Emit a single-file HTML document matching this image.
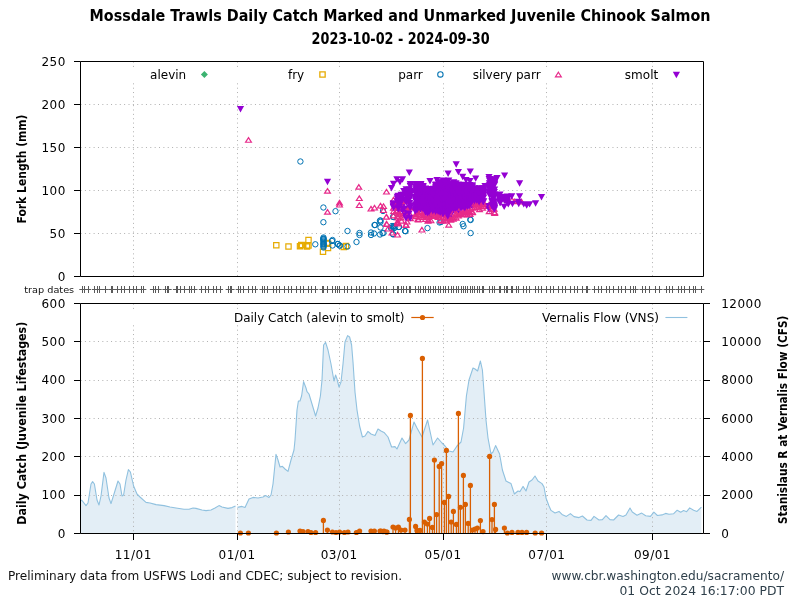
<!DOCTYPE html>
<html><head><meta charset="utf-8"><title>Mossdale Trawls Daily Catch</title>
<style>html,body{margin:0;padding:0;background:#fff;width:800px;height:600px;overflow:hidden}svg{display:block}</style>
</head><body>
<svg width="800" height="600" viewBox="0 0 800 600"><text x="400" y="20.6" text-anchor="middle" font-family='"DejaVu Sans Condensed","DejaVu Sans","Liberation Sans",sans-serif' font-weight="bold" font-size="15.9" textLength="621" lengthAdjust="spacingAndGlyphs">Mossdale Trawls Daily Catch Marked and Unmarked Juvenile Chinook Salmon</text>
<text x="400.6" y="43.8" text-anchor="middle" font-family='"DejaVu Sans Condensed","DejaVu Sans","Liberation Sans",sans-serif' font-weight="bold" font-size="15.9" textLength="178" lengthAdjust="spacingAndGlyphs">2023-10-02 - 2024-09-30</text>
<polygon points="81,533 81,500 82.4,501 86,505.6 88,503 91,484 92.6,481.6 94.4,484 97,500 99,505 101,496 104,472.4 106,478 109,498 111,503.6 114,494 118,481 120,484 122,496 123.6,495 126,480 128.4,469.6 130.4,472 133.6,486 137,494 140,497 146,502.4 150,503 156,504.6 164,505.6 170,507 176,508 184,509.2 189,509.2 193,508 196,508.4 202,510 206,510.6 211,510 215,508 219,505.6 222,507 228,508.4 232,507.6 235.5,506 235.5,533" fill="#e3eef6"/>
<polygon points="237.5,533 237.5,507.4 242,506.4 245,507.4 249,499 253,497.4 258,498 263,497 265.6,495.6 269,497.4 271,495 273,484 276,454.4 278,460 280,467 282.4,466.4 285,469 288,471.4 291,460 294,450 295,440 297,410 298.4,401 300,401 301.6,396 303.6,381.6 306,388 307,391.6 309,394 312,404 315.6,416 318,408 320.4,396 322,380 323.6,345 325.6,342.4 328,350 331,364 334,381 335.6,375 337,379 339,387 341,382 343,364 345,342 347.6,335.6 349.6,337 351.6,345 353,362 355,392 357,410 359.6,426 362.4,437 365,436 368,431.4 371,434 375,435.6 378,429 381,431 384,432.4 388,437 391.6,447 395,446.6 397,449 402,438 405.6,443.6 409,440 414,422 417,428 422,437 427.6,420 433,445 437.6,438 442,443 445,446 449,451 453,452 457,446 461,442 463.6,428 466.4,396 469,380 473,368 475,369 477.6,371 480.4,361 482.4,370 484,392 486,420 488,438 491,454 493,452 495.6,445.6 499.6,454 502.4,470 506,481 511,483.6 514.4,494 518,491 520,491.6 523,486.4 526,491 529,482 532,480 535,476 538,481 542,483.6 544,487 546,498 549,506 551,510.4 555,513 559,511.4 562,514.4 566.4,516.4 570.4,513.6 574,516.6 579,517.6 582.4,516 587,520 591,520.4 594,516.4 599,520 602.4,519.6 606,515.6 610,519.6 613.6,520 618.6,515 623,516.4 626,515 630,508 632.3,512 637,515.2 641.7,513.1 645.7,515.8 650.4,516.4 653.9,512.2 657.4,515.5 662,514.9 665.6,513.4 669,514.3 673.7,513.7 677.2,510.2 680.7,512.2 683.6,510.6 686.6,511.7 689.7,507.9 693.6,510.2 697,511.4 701.4,507.1 701.4,533" fill="#e3eef6"/>
<path d="M133.5 62V276 M133.5 304V533 M237.5 62V276 M237.5 304V533 M339.5 62V276 M339.5 304V533 M443.5 62V276 M443.5 304V533 M546.5 62V276 M546.5 304V533 M652.5 62V276 M652.5 304V533 M81 233.5H703 M81 190.5H703 M81 147.5H703 M81 104.5H703 M81 495.5H703 M81 456.5H703 M81 418.5H703 M81 380.5H703 M81 341.5H703" stroke="#b0b0b0" stroke-width="1" stroke-dasharray="1,3.36" stroke-dashoffset="-3.9" fill="none"/>
<polyline points="81,500 82.4,501 86,505.6 88,503 91,484 92.6,481.6 94.4,484 97,500 99,505 101,496 104,472.4 106,478 109,498 111,503.6 114,494 118,481 120,484 122,496 123.6,495 126,480 128.4,469.6 130.4,472 133.6,486 137,494 140,497 146,502.4 150,503 156,504.6 164,505.6 170,507 176,508 184,509.2 189,509.2 193,508 196,508.4 202,510 206,510.6 211,510 215,508 219,505.6 222,507 228,508.4 232,507.6 235.5,506" fill="none" stroke="#90c1df" stroke-width="1.1" stroke-linejoin="round"/>
<polyline points="237.5,507.4 242,506.4 245,507.4 249,499 253,497.4 258,498 263,497 265.6,495.6 269,497.4 271,495 273,484 276,454.4 278,460 280,467 282.4,466.4 285,469 288,471.4 291,460 294,450 295,440 297,410 298.4,401 300,401 301.6,396 303.6,381.6 306,388 307,391.6 309,394 312,404 315.6,416 318,408 320.4,396 322,380 323.6,345 325.6,342.4 328,350 331,364 334,381 335.6,375 337,379 339,387 341,382 343,364 345,342 347.6,335.6 349.6,337 351.6,345 353,362 355,392 357,410 359.6,426 362.4,437 365,436 368,431.4 371,434 375,435.6 378,429 381,431 384,432.4 388,437 391.6,447 395,446.6 397,449 402,438 405.6,443.6 409,440 414,422 417,428 422,437 427.6,420 433,445 437.6,438 442,443 445,446 449,451 453,452 457,446 461,442 463.6,428 466.4,396 469,380 473,368 475,369 477.6,371 480.4,361 482.4,370 484,392 486,420 488,438 491,454 493,452 495.6,445.6 499.6,454 502.4,470 506,481 511,483.6 514.4,494 518,491 520,491.6 523,486.4 526,491 529,482 532,480 535,476 538,481 542,483.6 544,487 546,498 549,506 551,510.4 555,513 559,511.4 562,514.4 566.4,516.4 570.4,513.6 574,516.6 579,517.6 582.4,516 587,520 591,520.4 594,516.4 599,520 602.4,519.6 606,515.6 610,519.6 613.6,520 618.6,515 623,516.4 626,515 630,508 632.3,512 637,515.2 641.7,513.1 645.7,515.8 650.4,516.4 653.9,512.2 657.4,515.5 662,514.9 665.6,513.4 669,514.3 673.7,513.7 677.2,510.2 680.7,512.2 683.6,510.6 686.6,511.7 689.7,507.9 693.6,510.2 697,511.4 701.4,507.1" fill="none" stroke="#90c1df" stroke-width="1.1" stroke-linejoin="round"/>
<path d="M323.4 533.5V520.4 M327.4 533.5V530 M393 533.5V527 M395.6 533.5V528 M398.4 533.5V527 M401 533.5V530 M405 533.5V530 M409.4 533.5V519.4 M410.4 533.5V415.4 M415.6 533.5V526.4 M417 533.5V530.4 M420 533.5V530.4 M422.4 533.5V358.4 M424.4 533.5V522 M427.4 533.5V524 M429.6 533.5V518.4 M432.4 533.5V527.4 M434.4 533.5V460 M436.6 533.5V514.6 M439.2 533.5V466.4 M441.6 533.5V463.6 M444.4 533.5V502.4 M446.4 533.5V450.4 M448.6 533.5V496.4 M451.2 533.5V522 M453.4 533.5V511.4 M456.4 533.5V524.4 M458.4 533.5V413.4 M460.4 533.5V507.4 M463.4 533.5V475.4 M465.4 533.5V504.4 M468.2 533.5V523.4 M470.4 533.5V485.4 M472.4 533.5V530 M475 533.5V529 M477.4 533.5V528 M480.4 533.5V520.6 M489.6 533.5V456.4 M492 533.5V519.6 M494.4 533.5V504.4 M495.6 533.5V529.4 M504.4 533.5V528" stroke="#d95f02" stroke-width="1.3" fill="none"/>
<g fill="#d95f02"><circle cx="240.4" cy="533" r="2.6"/><circle cx="248.4" cy="533" r="2.6"/><circle cx="276.4" cy="533" r="2.6"/><circle cx="288.4" cy="532" r="2.6"/><circle cx="300" cy="531" r="2.6"/><circle cx="303" cy="531.5" r="2.6"/><circle cx="308" cy="531.5" r="2.6"/><circle cx="311" cy="532.5" r="2.6"/><circle cx="315.6" cy="532.5" r="2.6"/><circle cx="323.4" cy="520.4" r="2.6"/><circle cx="327.4" cy="530" r="2.6"/><circle cx="332.4" cy="532" r="2.6"/><circle cx="336" cy="532.5" r="2.6"/><circle cx="339.6" cy="532" r="2.6"/><circle cx="344.4" cy="532.5" r="2.6"/><circle cx="348" cy="532" r="2.6"/><circle cx="356.4" cy="532.5" r="2.6"/><circle cx="359.6" cy="531" r="2.6"/><circle cx="371" cy="531" r="2.6"/><circle cx="374.4" cy="531" r="2.6"/><circle cx="381" cy="531" r="2.6"/><circle cx="384" cy="531" r="2.6"/><circle cx="387" cy="532" r="2.6"/><circle cx="380" cy="531" r="2.6"/><circle cx="383" cy="531.6" r="2.6"/><circle cx="386.4" cy="532" r="2.6"/><circle cx="393" cy="527" r="2.6"/><circle cx="395.6" cy="528" r="2.6"/><circle cx="398.4" cy="527" r="2.6"/><circle cx="401" cy="530" r="2.6"/><circle cx="405" cy="530" r="2.6"/><circle cx="409.4" cy="519.4" r="2.6"/><circle cx="410.4" cy="415.4" r="2.6"/><circle cx="415.6" cy="526.4" r="2.6"/><circle cx="417" cy="530.4" r="2.6"/><circle cx="420" cy="530.4" r="2.6"/><circle cx="422.4" cy="358.4" r="2.6"/><circle cx="424.4" cy="522" r="2.6"/><circle cx="427.4" cy="524" r="2.6"/><circle cx="429.6" cy="518.4" r="2.6"/><circle cx="432.4" cy="527.4" r="2.6"/><circle cx="434.4" cy="460" r="2.6"/><circle cx="436.6" cy="514.6" r="2.6"/><circle cx="439.2" cy="466.4" r="2.6"/><circle cx="441.6" cy="463.6" r="2.6"/><circle cx="444.4" cy="502.4" r="2.6"/><circle cx="446.4" cy="450.4" r="2.6"/><circle cx="448.6" cy="496.4" r="2.6"/><circle cx="451.2" cy="522" r="2.6"/><circle cx="453.4" cy="511.4" r="2.6"/><circle cx="456.4" cy="524.4" r="2.6"/><circle cx="458.4" cy="413.4" r="2.6"/><circle cx="460.4" cy="507.4" r="2.6"/><circle cx="463.4" cy="475.4" r="2.6"/><circle cx="465.4" cy="504.4" r="2.6"/><circle cx="468.2" cy="523.4" r="2.6"/><circle cx="470.4" cy="485.4" r="2.6"/><circle cx="472.4" cy="530" r="2.6"/><circle cx="475" cy="529" r="2.6"/><circle cx="477.4" cy="528" r="2.6"/><circle cx="480.4" cy="520.6" r="2.6"/><circle cx="483" cy="531.6" r="2.6"/><circle cx="489.6" cy="456.4" r="2.6"/><circle cx="492" cy="519.6" r="2.6"/><circle cx="494.4" cy="504.4" r="2.6"/><circle cx="495.6" cy="529.4" r="2.6"/><circle cx="504.4" cy="528" r="2.6"/><circle cx="507.4" cy="533" r="2.6"/><circle cx="512" cy="532.4" r="2.6"/><circle cx="518" cy="532.4" r="2.6"/><circle cx="522" cy="532.4" r="2.6"/><circle cx="526.6" cy="532.4" r="2.6"/><circle cx="535.2" cy="533" r="2.6"/><circle cx="541.6" cy="533" r="2.6"/></g>
<path d="M80.5 61.5H703.5V276.5H80.5Z M80.5 303.5H703.5V533.5H80.5Z" fill="none" stroke="#000" stroke-width="1"/>
<path d="M74 276.5H80.5 M74 233.5H80.5 M74 190.5H80.5 M74 147.5H80.5 M74 104.5H80.5 M74 61.5H80.5 M74 533.5H80.5 M74 495.5H80.5 M74 456.5H80.5 M74 418.5H80.5 M74 380.5H80.5 M74 341.5H80.5 M74 303.5H80.5 M703.5 533.5H710 M703.5 495.5H710 M703.5 456.5H710 M703.5 418.5H710 M703.5 380.5H710 M703.5 341.5H710 M703.5 303.5H710 M133.5 533.5V540 M237.5 533.5V540 M339.5 533.5V540 M443.5 533.5V540 M546.5 533.5V540 M652.5 533.5V540" stroke="#000" stroke-width="1" fill="none"/>
<g font-family='"DejaVu Sans","Liberation Sans",sans-serif' font-size="12" fill="#000" letter-spacing="0.5"><text x="65.8" y="280.8" text-anchor="end">0</text><text x="65.8" y="237.8" text-anchor="end">50</text><text x="65.8" y="194.8" text-anchor="end">100</text><text x="65.8" y="151.8" text-anchor="end">150</text><text x="65.8" y="108.8" text-anchor="end">200</text><text x="65.8" y="65.8" text-anchor="end">250</text><text x="65.8" y="537.8" text-anchor="end">0</text><text x="65.8" y="499.47" text-anchor="end">100</text><text x="65.8" y="461.13" text-anchor="end">200</text><text x="65.8" y="422.8" text-anchor="end">300</text><text x="65.8" y="384.47" text-anchor="end">400</text><text x="65.8" y="346.13" text-anchor="end">500</text><text x="65.8" y="307.8" text-anchor="end">600</text><text x="721.2" y="537.8">0</text><text x="721.2" y="499.47">2000</text><text x="721.2" y="461.13">4000</text><text x="721.2" y="422.8">6000</text><text x="721.2" y="384.47">8000</text><text x="721.2" y="346.13">10000</text><text x="721.2" y="307.8">12000</text><text x="133.27" y="559" text-anchor="middle">11/01</text><text x="237.1" y="559" text-anchor="middle">01/01</text><text x="339.23" y="559" text-anchor="middle">03/01</text><text x="443.07" y="559" text-anchor="middle">05/01</text><text x="546.9" y="559" text-anchor="middle">07/01</text><text x="652.43" y="559" text-anchor="middle">09/01</text></g>
<text transform="translate(25.5,169) rotate(-90)" text-anchor="middle" font-family='"DejaVu Sans Condensed","DejaVu Sans","Liberation Sans",sans-serif' font-weight="bold" font-size="11.7" textLength="109" lengthAdjust="spacingAndGlyphs">Fork Length (mm)</text>
<text transform="translate(25.5,423.2) rotate(-90)" text-anchor="middle" font-family='"DejaVu Sans Condensed","DejaVu Sans","Liberation Sans",sans-serif' font-weight="bold" font-size="11.7" textLength="203" lengthAdjust="spacingAndGlyphs">Daily Catch (Juvenile Lifestages)</text>
<text transform="translate(787.3,419.8) rotate(-90)" text-anchor="middle" font-family='"DejaVu Sans Condensed","DejaVu Sans","Liberation Sans",sans-serif' font-weight="bold" font-size="11.7" textLength="208.5" lengthAdjust="spacingAndGlyphs">Stanislaus R at Vernalis Flow (CFS)</text>
<rect x="81" y="311" width="622" height="14" fill="#fff"/>
<text x="234" y="321.5" font-family='"DejaVu Sans","Liberation Sans",sans-serif' font-size="12" textLength="170.5" lengthAdjust="spacingAndGlyphs">Daily Catch (alevin to smolt)</text>
<path d="M411.3 317.5H433.7" stroke="#d95f02" stroke-width="1.2"/><circle cx="422.5" cy="317.5" r="2.6" fill="#d95f02"/>
<text x="542" y="321.5" font-family='"DejaVu Sans","Liberation Sans",sans-serif' font-size="12" textLength="117" lengthAdjust="spacingAndGlyphs">Vernalis Flow (VNS)</text>
<path d="M665.4 317.5H687.4" stroke="#90c1df" stroke-width="1.1"/>
<path d="M82.5 286V293M79.3 289.5H85.5M84.5 286V293M81.8 289.5H88M88.5 286V293M84.9 289.5H91.1M94.5 286V293M91.8 289.5H98M97.5 286V293M94.3 289.5H100.5M99.5 286V293M96.8 289.5H103M105.5 286V293M102.4 289.5H108.6M111.5 286V293M108.4 289.5H114.6M112.5 286V293M109.3 289.5H115.5M117.5 286V293M114.3 289.5H120.5M121.5 286V293M118 289.5H124.2M124.5 286V293M121.15 289.5H127.35M129.5 286V293M126.15 289.5H132.35M133.5 286V293M129.9 289.5H136.1M136.5 286V293M133 289.5H139.2M141.5 286V293M138.65 289.5H144.85M143.5 286V293M140.15 289.5H146.35M153.5 286V293M149.9 289.5H156.1M155.5 286V293M152.4 289.5H158.6M158.5 286V293M155.5 289.5H161.7M165.5 286V293M162.4 289.5H168.6M167.5 286V293M164.3 289.5H170.5M168.5 286V293M165.5 289.5H171.7M176.5 286V293M172.9 289.5H179.1M177.5 286V293M174.15 289.5H180.35M180.5 286V293M177.5 289.5H183.7M184.5 286V293M181.3 289.5H187.5M189.5 286V293M186.3 289.5H192.5M191.5 286V293M188.15 289.5H194.35M194.5 286V293M191.3 289.5H197.5M201.5 286V293M198.8 289.5H205M205.5 286V293M201.9 289.5H208.1M208.5 286V293M205.4 289.5H211.6M213.5 286V293M210.65 289.5H216.85M216.5 286V293M213.8 289.5H220M220.5 286V293M216.9 289.5H223.1M228.5 286V293M225.65 289.5H231.85M230.5 286V293M227.5 289.5H233.7M231.5 286V293M228.4 289.5H234.6M238.5 286V293M235.65 289.5H241.85M240.5 286V293M237.5 289.5H243.7M243.5 286V293M240 289.5H246.2M248.5 286V293M245.65 289.5H251.85M252.5 286V293M249.4 289.5H255.6M255.5 286V293M251.9 289.5H258.1M262.5 286V293M259.4 289.5H265.6M264.5 286V293M261.65 289.5H267.85M267.5 286V293M264.4 289.5H270.6M273.5 286V293M270 289.5H276.2M276.5 286V293M273.15 289.5H279.35M279.5 286V293M276.3 289.5H282.5M284.5 286V293M281.3 289.5H287.5M288.5 286V293M285 289.5H291.2M291.5 286V293M288.15 289.5H294.35M296.5 286V293M293.4 289.5H299.6M300.5 286V293M296.9 289.5H303.1M303.5 286V293M300 289.5H306.2M308.5 286V293M305.65 289.5H311.85M311.5 286V293M308.8 289.5H315M315.5 286V293M312.15 289.5H318.35M322.5 286V293M319.4 289.5H325.6M323.5 286V293M320.4 289.5H326.6M327.5 286V293M324.4 289.5H330.6M332.5 286V293M329.4 289.5H335.6M335.5 286V293M332.15 289.5H338.35M337.5 286V293M334.15 289.5H340.35M339.5 286V293M336 289.5H342.2M344.5 286V293M341.3 289.5H347.5M347.5 286V293M344.4 289.5H350.6M351.5 286V293M348.15 289.5H354.35M356.5 286V293M353.15 289.5H359.35M359.5 286V293M356.3 289.5H362.5M363.5 286V293M360 289.5H366.2M368.5 286V293M365.65 289.5H371.85M371.5 286V293M368.8 289.5H375M375.5 286V293M371.9 289.5H378.1M380.5 286V293M377.5 289.5H383.7M383.5 286V293M380.4 289.5H386.6M386.5 286V293M383.8 289.5H390M393.5 286V293M390.4 289.5H396.6M397.5 286V293M394.4 289.5H400.6M398.5 286V293M395.4 289.5H401.6M401.5 286V293M398.15 289.5H404.35M403.5 286V293M400.65 289.5H406.85M406.5 286V293M403.15 289.5H409.35M409.5 286V293M406.3 289.5H412.5M410.5 286V293M407.15 289.5H413.35M415.5 286V293M412.5 289.5H418.7M418.5 286V293M415.03 289.5H421.23M420.5 286V293M417.56 289.5H423.76M423.5 286V293M420.09 289.5H426.29M425.5 286V293M422.62 289.5H428.82M428.5 286V293M425.15 289.5H431.35M430.5 286V293M427.68 289.5H433.88M433.5 286V293M430.21 289.5H436.41M435.5 286V293M432.74 289.5H438.94M438.5 286V293M435.27 289.5H441.47M440.5 286V293M437.8 289.5H444M443.5 286V293M440.33 289.5H446.53M445.5 286V293M442.86 289.5H449.06M448.5 286V293M445.39 289.5H451.59M451.5 286V293M447.92 289.5H454.12M453.5 286V293M450.45 289.5H456.65M456.5 286V293M452.98 289.5H459.18M458.5 286V293M455.51 289.5H461.71M461.5 286V293M458.04 289.5H464.24M463.5 286V293M460.57 289.5H466.77M465.5 286V293M462.15 289.5H468.35M467.5 286V293M464.4 289.5H470.6M470.5 286V293M466.9 289.5H473.1M472.5 286V293M469.15 289.5H475.35M474.5 286V293M471.65 289.5H477.85M477.5 286V293M474.15 289.5H480.35M479.5 286V293M476.65 289.5H482.85M482.5 286V293M479.4 289.5H485.6M483.5 286V293M480.4 289.5H486.6M489.5 286V293M486.3 289.5H492.5M492.5 286V293M489.15 289.5H495.35M494.5 286V293M491.3 289.5H497.5M499.5 286V293M496.65 289.5H502.85M500.5 286V293M497.15 289.5H503.35M504.5 286V293M501.3 289.5H507.5M506.5 286V293M503.15 289.5H509.35M507.5 286V293M504.15 289.5H510.35M511.5 286V293M508.4 289.5H514.6M512.5 286V293M509.15 289.5H515.35M516.5 286V293M513.8 289.5H520M518.5 286V293M515.65 289.5H521.85M523.5 286V293M520.65 289.5H526.85M526.5 286V293M523.4 289.5H529.6M529.5 286V293M526.3 289.5H532.5M535.5 286V293M532.5 289.5H538.7M538.5 286V293M535.3 289.5H541.5M541.5 286V293M538.15 289.5H544.35M546.5 286V293M543.15 289.5H549.35M550.5 286V293M546.9 289.5H553.1M553.5 286V293M550.4 289.5H556.6M558.5 286V293M555.65 289.5H561.85M562.5 286V293M559.15 289.5H565.35M565.5 286V293M561.9 289.5H568.1M570.5 286V293M567.5 289.5H573.7M574.5 286V293M571.3 289.5H577.5M577.5 286V293M574.4 289.5H580.6M582.5 286V293M579.4 289.5H585.6M586.5 286V293M583.4 289.5H589.6M587.5 286V293M584.4 289.5H590.6M594.5 286V293M591.65 289.5H597.85M598.5 286V293M595 289.5H601.2M601.5 286V293M598.15 289.5H604.35M606.5 286V293M603.4 289.5H609.6M609.5 286V293M606.65 289.5H612.85M613.5 286V293M610 289.5H616.2M618.5 286V293M615.4 289.5H621.6M621.5 286V293M618.8 289.5H625M625.5 286V293M621.9 289.5H628.1M630.5 286V293M627.5 289.5H633.7M633.5 286V293M630 289.5H636.2M635.5 286V293M632.5 289.5H638.7M642.5 286V293M639.4 289.5H645.6M645.5 286V293M642.5 289.5H648.7M649.5 286V293M646.4 289.5H652.6M655.5 286V293M652.4 289.5H658.6M659.5 286V293M656.4 289.5H662.6M666.5 286V293M663.4 289.5H669.6M669.5 286V293M666.4 289.5H672.6M672.5 286V293M669.1 289.5H675.3M678.5 286V293M675.4 289.5H681.6M681.5 286V293M678.1 289.5H684.3M684.5 286V293M680.9 289.5H687.1M689.5 286V293M686.4 289.5H692.6M693.5 286V293M689.9 289.5H696.1M695.5 286V293M691.9 289.5H698.1M701.5 286V293M698.1 289.5H704.3" stroke="#5a5a5a" stroke-width="1" fill="none"/>
<text x="74.2" y="292.5" text-anchor="end" font-family='"DejaVu Sans","Liberation Sans",sans-serif' font-size="9.5" fill="#111" textLength="50" lengthAdjust="spacingAndGlyphs">trap dates</text>
<text x="8" y="580" font-family='"DejaVu Sans","Liberation Sans",sans-serif' font-size="12" fill="#111" textLength="394" lengthAdjust="spacingAndGlyphs">Preliminary data from USFWS Lodi and CDEC; subject to revision.</text>
<text x="784" y="580" text-anchor="end" font-family='"DejaVu Sans","Liberation Sans",sans-serif' font-size="12" fill="#2e3f4a" textLength="232.5" lengthAdjust="spacingAndGlyphs">www.cbr.washington.edu/sacramento/</text>
<text x="784" y="595" text-anchor="end" font-family='"DejaVu Sans","Liberation Sans",sans-serif' font-size="12" fill="#2e3f4a" textLength="164.5" lengthAdjust="spacingAndGlyphs">01 Oct 2024 16:17:00 PDT</text>
<path d="M273.65 242.65h5.3v5.3h-5.3zM285.85 243.85h5.3v5.3h-5.3zM297.35 243.55h5.3v5.3h-5.3zM298.6 242.35h5.3v5.3h-5.3zM299.35 242.35h5.3v5.3h-5.3zM305.85 237.35h5.3v5.3h-5.3zM305.85 242.85h5.3v5.3h-5.3zM304.35 243.85h5.3v5.3h-5.3zM320.35 249.15h5.3v5.3h-5.3zM325.35 245.35h5.3v5.3h-5.3zM324.35 240.35h5.3v5.3h-5.3zM343.35 243.35h5.3v5.3h-5.3zM341.1 244.25h5.3v5.3h-5.3zM325.45 241.1h5.3v5.3h-5.3z" fill="none" stroke="#e6ab02" stroke-width="1.2"/>
<path d="M297.7 161.5a2.7 2.7 0 1 0 5.4 0a2.7 2.7 0 1 0 -5.4 0M320.7 207.5a2.7 2.7 0 1 0 5.4 0a2.7 2.7 0 1 0 -5.4 0M332.8 211.2a2.7 2.7 0 1 0 5.4 0a2.7 2.7 0 1 0 -5.4 0M320.7 222.2a2.7 2.7 0 1 0 5.4 0a2.7 2.7 0 1 0 -5.4 0M312.6 244.3a2.7 2.7 0 1 0 5.4 0a2.7 2.7 0 1 0 -5.4 0M320.8 237.5a2.7 2.7 0 1 0 5.4 0a2.7 2.7 0 1 0 -5.4 0M320.8 238.5a2.7 2.7 0 1 0 5.4 0a2.7 2.7 0 1 0 -5.4 0M320.8 239.5a2.7 2.7 0 1 0 5.4 0a2.7 2.7 0 1 0 -5.4 0M320.8 240.5a2.7 2.7 0 1 0 5.4 0a2.7 2.7 0 1 0 -5.4 0M320.8 241.5a2.7 2.7 0 1 0 5.4 0a2.7 2.7 0 1 0 -5.4 0M320.8 242.5a2.7 2.7 0 1 0 5.4 0a2.7 2.7 0 1 0 -5.4 0M320.8 243.5a2.7 2.7 0 1 0 5.4 0a2.7 2.7 0 1 0 -5.4 0M320.8 244.5a2.7 2.7 0 1 0 5.4 0a2.7 2.7 0 1 0 -5.4 0M320.8 245.5a2.7 2.7 0 1 0 5.4 0a2.7 2.7 0 1 0 -5.4 0M320.8 246.5a2.7 2.7 0 1 0 5.4 0a2.7 2.7 0 1 0 -5.4 0M320.8 247.5a2.7 2.7 0 1 0 5.4 0a2.7 2.7 0 1 0 -5.4 0M320.6 239a2.7 2.7 0 1 0 5.4 0a2.7 2.7 0 1 0 -5.4 0M321 244a2.7 2.7 0 1 0 5.4 0a2.7 2.7 0 1 0 -5.4 0M329.3 241a2.7 2.7 0 1 0 5.4 0a2.7 2.7 0 1 0 -5.4 0M329.8 245.5a2.7 2.7 0 1 0 5.4 0a2.7 2.7 0 1 0 -5.4 0M335.3 244a2.7 2.7 0 1 0 5.4 0a2.7 2.7 0 1 0 -5.4 0M337.3 245.6a2.7 2.7 0 1 0 5.4 0a2.7 2.7 0 1 0 -5.4 0M344.8 231a2.7 2.7 0 1 0 5.4 0a2.7 2.7 0 1 0 -5.4 0M356.8 233a2.7 2.7 0 1 0 5.4 0a2.7 2.7 0 1 0 -5.4 0M356.8 235a2.7 2.7 0 1 0 5.4 0a2.7 2.7 0 1 0 -5.4 0M353.8 242a2.7 2.7 0 1 0 5.4 0a2.7 2.7 0 1 0 -5.4 0M329.8 240a2.7 2.7 0 1 0 5.4 0a2.7 2.7 0 1 0 -5.4 0M334.8 244a2.7 2.7 0 1 0 5.4 0a2.7 2.7 0 1 0 -5.4 0M336.8 245.5a2.7 2.7 0 1 0 5.4 0a2.7 2.7 0 1 0 -5.4 0M344.8 246.5a2.7 2.7 0 1 0 5.4 0a2.7 2.7 0 1 0 -5.4 0M371.8 225a2.7 2.7 0 1 0 5.4 0a2.7 2.7 0 1 0 -5.4 0M377.8 220.5a2.7 2.7 0 1 0 5.4 0a2.7 2.7 0 1 0 -5.4 0M377.8 222a2.7 2.7 0 1 0 5.4 0a2.7 2.7 0 1 0 -5.4 0M377.8 227.5a2.7 2.7 0 1 0 5.4 0a2.7 2.7 0 1 0 -5.4 0M368.3 232.5a2.7 2.7 0 1 0 5.4 0a2.7 2.7 0 1 0 -5.4 0M368.3 235a2.7 2.7 0 1 0 5.4 0a2.7 2.7 0 1 0 -5.4 0M371.3 233.5a2.7 2.7 0 1 0 5.4 0a2.7 2.7 0 1 0 -5.4 0M377.3 234.5a2.7 2.7 0 1 0 5.4 0a2.7 2.7 0 1 0 -5.4 0M380.8 233a2.7 2.7 0 1 0 5.4 0a2.7 2.7 0 1 0 -5.4 0M380.3 211a2.7 2.7 0 1 0 5.4 0a2.7 2.7 0 1 0 -5.4 0M390.8 217a2.7 2.7 0 1 0 5.4 0a2.7 2.7 0 1 0 -5.4 0M390.3 227a2.7 2.7 0 1 0 5.4 0a2.7 2.7 0 1 0 -5.4 0M391.3 228a2.7 2.7 0 1 0 5.4 0a2.7 2.7 0 1 0 -5.4 0M390.3 234a2.7 2.7 0 1 0 5.4 0a2.7 2.7 0 1 0 -5.4 0M396.3 227a2.7 2.7 0 1 0 5.4 0a2.7 2.7 0 1 0 -5.4 0M402.3 231a2.7 2.7 0 1 0 5.4 0a2.7 2.7 0 1 0 -5.4 0M390.4 216.9a2.7 2.7 0 1 0 5.4 0a2.7 2.7 0 1 0 -5.4 0M396.05 226.9a2.7 2.7 0 1 0 5.4 0a2.7 2.7 0 1 0 -5.4 0M402.9 231.25a2.7 2.7 0 1 0 5.4 0a2.7 2.7 0 1 0 -5.4 0M390.4 234.4a2.7 2.7 0 1 0 5.4 0a2.7 2.7 0 1 0 -5.4 0M424.8 228.1a2.7 2.7 0 1 0 5.4 0a2.7 2.7 0 1 0 -5.4 0M436.9 222.5a2.7 2.7 0 1 0 5.4 0a2.7 2.7 0 1 0 -5.4 0M460.8 226.25a2.7 2.7 0 1 0 5.4 0a2.7 2.7 0 1 0 -5.4 0M467.9 233.1a2.7 2.7 0 1 0 5.4 0a2.7 2.7 0 1 0 -5.4 0M467.9 220a2.7 2.7 0 1 0 5.4 0a2.7 2.7 0 1 0 -5.4 0M379.8 233.1a2.7 2.7 0 1 0 5.4 0a2.7 2.7 0 1 0 -5.4 0M372.3 225a2.7 2.7 0 1 0 5.4 0a2.7 2.7 0 1 0 -5.4 0M377.3 220.6a2.7 2.7 0 1 0 5.4 0a2.7 2.7 0 1 0 -5.4 0M438.3 222a2.7 2.7 0 1 0 5.4 0a2.7 2.7 0 1 0 -5.4 0M460 224a2.7 2.7 0 1 0 5.4 0a2.7 2.7 0 1 0 -5.4 0M467.6 219.6a2.7 2.7 0 1 0 5.4 0a2.7 2.7 0 1 0 -5.4 0M389.3 226a2.7 2.7 0 1 0 5.4 0a2.7 2.7 0 1 0 -5.4 0M391.3 226a2.7 2.7 0 1 0 5.4 0a2.7 2.7 0 1 0 -5.4 0M392.3 227.5a2.7 2.7 0 1 0 5.4 0a2.7 2.7 0 1 0 -5.4 0M388.3 228a2.7 2.7 0 1 0 5.4 0a2.7 2.7 0 1 0 -5.4 0" fill="none" stroke="#0072b2" stroke-width="1"/>
<path d="M248.5 137.65l2.9 4.6h-5.8zM358.8 184.6l2.9 4.6h-5.8zM327.5 188.6l2.9 4.6h-5.8zM327.5 209.6l2.9 4.6h-5.8zM339.5 200.4l2.9 4.6h-5.8zM339.5 202.4l2.9 4.6h-5.8zM359.3 195.9l2.9 4.6h-5.8zM359.3 202.9l2.9 4.6h-5.8zM386.5 189.4l2.9 4.6h-5.8zM371 206.4l2.9 4.6h-5.8zM374.5 205.4l2.9 4.6h-5.8zM380.5 203.4l2.9 4.6h-5.8zM383.5 203.9l2.9 4.6h-5.8zM383.5 207.9l2.9 4.6h-5.8zM386.5 214.4l2.9 4.6h-5.8zM386.5 221.4l2.9 4.6h-5.8zM397.5 232.4l2.9 4.6h-5.8zM393.5 197.4l2.9 4.6h-5.8zM396.5 208.4l2.9 4.6h-5.8zM401 208.9l2.9 4.6h-5.8zM398 215.4l2.9 4.6h-5.8zM398 220.4l2.9 4.6h-5.8zM407 219.4l2.9 4.6h-5.8zM406 222.4l2.9 4.6h-5.8zM421.9 227.4l2.9 4.6h-5.8zM386.9 221.8l2.9 4.6h-5.8zM386.25 214.65l2.9 4.6h-5.8zM397.5 213.65l2.9 4.6h-5.8zM397.5 219.3l2.9 4.6h-5.8zM388 226.4l2.9 4.6h-5.8zM392 230.4l2.9 4.6h-5.8zM521.51 199.35l2.9 4.6h-5.8zM511.85 197.75l2.9 4.6h-5.8zM514.23 199.1l2.9 4.6h-5.8z" fill="none" stroke="#e7298a" stroke-width="1.2" stroke-linejoin="miter"/>
<polygon points="414.5,183.5 419,184.5 421,184.5 425,187.5 427,189.5 430,189.5 433,187.5 435,182.5 440,181.5 446,180.5 448,180.5 450,180.5 452,181.5 458,183.5 460,183.5 466,184.5 472,185.5 474,186.5 476,188.5 476,203.5 474,203.5 472,207.5 466,209.5 460,209.5 458,211.5 452,213.5 450,217.5 448,219.5 446,215.5 440,214.5 435,212.5 433,212.5 430,216.5 427,216.5 425,211.5 421,211.5 419,213.5 414.5,213.5" fill="#9400d3"/>
<path d="M393.61 208.94l2.9 4.6h-5.8zM393.39 213.21l2.9 4.6h-5.8zM393.47 205.49l2.9 4.6h-5.8z" fill="none" stroke="#e7298a" stroke-width="1.2"/>
<path d="M389.85 204.13h7.2l-3.6 6.4zM389.67 201.12h7.2l-3.6 6.4zM389.98 204.74h7.2l-3.6 6.4zM389.95 201.98h7.2l-3.6 6.4zM390.19 200.23h7.2l-3.6 6.4zM390.12 201.45h7.2l-3.6 6.4zM389.69 200.59h7.2l-3.6 6.4zM389.79 204.08h7.2l-3.6 6.4zM389.71 202.91h7.2l-3.6 6.4zM389.98 201.86h7.2l-3.6 6.4zM389.93 200.31h7.2l-3.6 6.4zM389.64 201.03h7.2l-3.6 6.4z" fill="#9400d3"/>
<path d="M397.53 221.25l2.9 4.6h-5.8zM397.69 220.73l2.9 4.6h-5.8zM397.37 208.61l2.9 4.6h-5.8z" fill="none" stroke="#e7298a" stroke-width="1.2"/>
<path d="M394.1 205.23h7.2l-3.6 6.4zM393.88 201.3h7.2l-3.6 6.4zM393.64 201.82h7.2l-3.6 6.4zM393.99 205.9h7.2l-3.6 6.4zM394.09 195.98h7.2l-3.6 6.4zM393.83 201.36h7.2l-3.6 6.4zM393.61 198.46h7.2l-3.6 6.4zM393.7 193.64h7.2l-3.6 6.4zM393.64 202.76h7.2l-3.6 6.4zM393.68 195.47h7.2l-3.6 6.4zM393.83 204.2h7.2l-3.6 6.4zM393.65 198.29h7.2l-3.6 6.4z" fill="#9400d3"/>
<path d="M398.48 210.46l2.9 4.6h-5.8zM398.25 200.16l2.9 4.6h-5.8zM398.41 204.55l2.9 4.6h-5.8z" fill="none" stroke="#e7298a" stroke-width="1.2"/>
<path d="M394.84 197.57h7.2l-3.6 6.4zM394.66 200.91h7.2l-3.6 6.4zM394.64 192.86h7.2l-3.6 6.4zM394.73 194.2h7.2l-3.6 6.4zM394.8 192.65h7.2l-3.6 6.4zM394.6 194.05h7.2l-3.6 6.4zM394.66 197.06h7.2l-3.6 6.4zM394.62 204.32h7.2l-3.6 6.4zM394.97 194.01h7.2l-3.6 6.4zM394.75 196.83h7.2l-3.6 6.4zM394.82 193.64h7.2l-3.6 6.4zM395.11 206h7.2l-3.6 6.4z" fill="#9400d3"/>
<path d="M401 215.24l2.9 4.6h-5.8zM401.5 218.52l2.9 4.6h-5.8zM401.4 210.31l2.9 4.6h-5.8z" fill="none" stroke="#e7298a" stroke-width="1.2"/>
<path d="M397.49 199.27h7.2l-3.6 6.4zM397.56 191.79h7.2l-3.6 6.4zM397.37 195.63h7.2l-3.6 6.4zM397.51 201.95h7.2l-3.6 6.4zM397.92 198.19h7.2l-3.6 6.4zM397.91 206.47h7.2l-3.6 6.4zM397.92 196.93h7.2l-3.6 6.4zM397.48 194.82h7.2l-3.6 6.4zM397.47 194.48h7.2l-3.6 6.4zM397.72 205.12h7.2l-3.6 6.4zM397.85 198.69h7.2l-3.6 6.4zM397.74 203.58h7.2l-3.6 6.4z" fill="#9400d3"/>
<path d="M403.51 212.53l2.9 4.6h-5.8zM403.6 204.88l2.9 4.6h-5.8zM403.91 211.11l2.9 4.6h-5.8z" fill="none" stroke="#e7298a" stroke-width="1.2"/>
<path d="M399.93 208.89h7.2l-3.6 6.4zM400.06 198.27h7.2l-3.6 6.4zM400.2 208.75h7.2l-3.6 6.4zM400.1 209.07h7.2l-3.6 6.4zM400.15 200h7.2l-3.6 6.4zM400.16 187.94h7.2l-3.6 6.4zM400.11 191.8h7.2l-3.6 6.4zM399.85 206.28h7.2l-3.6 6.4zM399.95 198.63h7.2l-3.6 6.4zM400.29 200.58h7.2l-3.6 6.4zM400.05 199.68h7.2l-3.6 6.4zM400.18 205.93h7.2l-3.6 6.4z" fill="#9400d3"/>
<path d="M406 198.95l2.9 4.6h-5.8zM406.36 208.88l2.9 4.6h-5.8zM405.99 222.74l2.9 4.6h-5.8z" fill="none" stroke="#e7298a" stroke-width="1.2"/>
<path d="M402.68 196.79h7.2l-3.6 6.4zM402.36 193.1h7.2l-3.6 6.4zM402.72 199.21h7.2l-3.6 6.4zM402.39 215.2h7.2l-3.6 6.4zM402.82 214.74h7.2l-3.6 6.4zM402.41 190.88h7.2l-3.6 6.4zM402.37 208.23h7.2l-3.6 6.4zM402.51 186.28h7.2l-3.6 6.4zM402.6 212.71h7.2l-3.6 6.4zM402.84 190.64h7.2l-3.6 6.4zM402.44 212.97h7.2l-3.6 6.4zM402.69 205.57h7.2l-3.6 6.4z" fill="#9400d3"/>
<path d="M409.38 210.97l2.9 4.6h-5.8zM409.22 211.03l2.9 4.6h-5.8zM409.1 204.53l2.9 4.6h-5.8z" fill="none" stroke="#e7298a" stroke-width="1.2"/>
<path d="M405.54 206.83h7.2l-3.6 6.4zM405.65 186.38h7.2l-3.6 6.4zM405.55 210.38h7.2l-3.6 6.4zM406.02 204.34h7.2l-3.6 6.4zM405.67 189.17h7.2l-3.6 6.4zM405.68 196.86h7.2l-3.6 6.4zM405.59 196.38h7.2l-3.6 6.4zM405.66 214.65h7.2l-3.6 6.4zM406.08 199.97h7.2l-3.6 6.4zM405.65 214.78h7.2l-3.6 6.4zM405.69 193.22h7.2l-3.6 6.4zM405.5 194.11h7.2l-3.6 6.4z" fill="#9400d3"/>
<path d="M409.99 204.66l2.9 4.6h-5.8zM410.35 216.09l2.9 4.6h-5.8zM410.36 205.25l2.9 4.6h-5.8z" fill="none" stroke="#e7298a" stroke-width="1.2"/>
<path d="M406.75 182.81h7.2l-3.6 6.4zM406.79 189.42h7.2l-3.6 6.4zM406.39 189.9h7.2l-3.6 6.4zM406.79 187.75h7.2l-3.6 6.4zM406.79 215.14h7.2l-3.6 6.4zM406.65 194.06h7.2l-3.6 6.4zM406.64 204.76h7.2l-3.6 6.4zM406.81 202.39h7.2l-3.6 6.4zM406.74 183.21h7.2l-3.6 6.4zM406.44 189.48h7.2l-3.6 6.4zM406.8 191.28h7.2l-3.6 6.4zM406.69 180.9h7.2l-3.6 6.4z" fill="#9400d3"/>
<path d="M415.84 211.72l2.9 4.6h-5.8zM415.52 212.54l2.9 4.6h-5.8zM415.9 214.11l2.9 4.6h-5.8z" fill="none" stroke="#e7298a" stroke-width="1.2"/>
<path d="M412.01 194.07h7.2l-3.6 6.4zM411.98 183.77h7.2l-3.6 6.4zM412.24 186.17h7.2l-3.6 6.4zM412.29 208.1h7.2l-3.6 6.4zM411.71 193.9h7.2l-3.6 6.4zM412.19 209.05h7.2l-3.6 6.4zM411.97 188.24h7.2l-3.6 6.4zM411.83 208.38h7.2l-3.6 6.4zM411.83 197.55h7.2l-3.6 6.4zM411.79 195.84h7.2l-3.6 6.4zM412.27 184.19h7.2l-3.6 6.4zM412.19 195.38h7.2l-3.6 6.4zM412.23 201.17h7.2l-3.6 6.4zM411.84 206.96h7.2l-3.6 6.4zM411.99 180.98h7.2l-3.6 6.4zM411.7 194.88h7.2l-3.6 6.4zM411.97 189.23h7.2l-3.6 6.4zM411.78 190.48h7.2l-3.6 6.4zM411.89 205.25h7.2l-3.6 6.4zM411.7 202.58h7.2l-3.6 6.4zM412.2 183.82h7.2l-3.6 6.4zM412.26 201.46h7.2l-3.6 6.4z" fill="#9400d3"/>
<path d="M417.95 216.65l2.9 4.6h-5.8zM418.13 211.16l2.9 4.6h-5.8zM418.37 217.37l2.9 4.6h-5.8z" fill="none" stroke="#e7298a" stroke-width="1.2"/>
<path d="M414.45 193.3h7.2l-3.6 6.4zM414.4 182.22h7.2l-3.6 6.4zM414.29 205.17h7.2l-3.6 6.4zM414.4 208.12h7.2l-3.6 6.4zM414.38 188.56h7.2l-3.6 6.4zM414.54 186.35h7.2l-3.6 6.4zM414.45 208.72h7.2l-3.6 6.4zM414.76 204.51h7.2l-3.6 6.4zM414.61 207.47h7.2l-3.6 6.4zM414.79 196.84h7.2l-3.6 6.4zM414.66 182.25h7.2l-3.6 6.4zM414.67 193.97h7.2l-3.6 6.4zM414.68 199.62h7.2l-3.6 6.4zM414.4 182.24h7.2l-3.6 6.4zM414.79 184.52h7.2l-3.6 6.4zM414.51 190.84h7.2l-3.6 6.4zM414.41 202.38h7.2l-3.6 6.4zM414.82 188.4h7.2l-3.6 6.4zM414.62 189.59h7.2l-3.6 6.4zM414.56 192.32h7.2l-3.6 6.4zM414.33 185.53h7.2l-3.6 6.4z" fill="#9400d3"/>
<path d="M420.86 214.58l2.9 4.6h-5.8zM420.94 209.73l2.9 4.6h-5.8zM420.43 208.98l2.9 4.6h-5.8z" fill="none" stroke="#e7298a" stroke-width="1.2"/>
<path d="M417.03 184.82h7.2l-3.6 6.4zM416.88 183.48h7.2l-3.6 6.4zM416.97 183.49h7.2l-3.6 6.4zM416.9 188.06h7.2l-3.6 6.4zM417.1 205.26h7.2l-3.6 6.4zM417.21 192.29h7.2l-3.6 6.4zM417.01 195.33h7.2l-3.6 6.4zM416.99 190.25h7.2l-3.6 6.4zM416.8 188.59h7.2l-3.6 6.4zM417.34 184.44h7.2l-3.6 6.4zM417.06 198.21h7.2l-3.6 6.4zM417.28 186.9h7.2l-3.6 6.4zM416.92 187.79h7.2l-3.6 6.4zM417 193.19h7.2l-3.6 6.4zM417.33 204.2h7.2l-3.6 6.4zM417.28 181.6h7.2l-3.6 6.4zM416.78 200.4h7.2l-3.6 6.4zM417.3 193.94h7.2l-3.6 6.4zM417.11 181h7.2l-3.6 6.4zM416.99 206.34h7.2l-3.6 6.4z" fill="#9400d3"/>
<path d="M423.19 212.8l2.9 4.6h-5.8zM423.14 209.46l2.9 4.6h-5.8zM423.29 214.8l2.9 4.6h-5.8z" fill="none" stroke="#e7298a" stroke-width="1.2"/>
<path d="M419.6 199.94h7.2l-3.6 6.4zM419.85 200.94h7.2l-3.6 6.4zM419.68 202.04h7.2l-3.6 6.4zM419.56 196.63h7.2l-3.6 6.4zM419.31 202.48h7.2l-3.6 6.4zM419.43 205.97h7.2l-3.6 6.4zM419.68 190.35h7.2l-3.6 6.4zM419.37 189.03h7.2l-3.6 6.4zM419.67 200.36h7.2l-3.6 6.4zM419.36 184.43h7.2l-3.6 6.4zM419.6 197.42h7.2l-3.6 6.4zM419.52 188.31h7.2l-3.6 6.4zM419.65 182.91h7.2l-3.6 6.4zM419.47 194.32h7.2l-3.6 6.4zM419.87 198.99h7.2l-3.6 6.4zM419.82 194.7h7.2l-3.6 6.4zM419.43 188.91h7.2l-3.6 6.4zM419.87 200.51h7.2l-3.6 6.4zM419.47 183.19h7.2l-3.6 6.4z" fill="#9400d3"/>
<path d="M425.53 216.69l2.9 4.6h-5.8zM425.87 209.46l2.9 4.6h-5.8zM425.82 212.23l2.9 4.6h-5.8z" fill="none" stroke="#e7298a" stroke-width="1.2"/>
<path d="M421.96 185.58h7.2l-3.6 6.4zM422.02 195.27h7.2l-3.6 6.4zM422.23 189.69h7.2l-3.6 6.4zM422.3 203.26h7.2l-3.6 6.4zM422.12 189.87h7.2l-3.6 6.4zM422.4 192.54h7.2l-3.6 6.4zM422.31 190.51h7.2l-3.6 6.4zM421.95 203.79h7.2l-3.6 6.4zM422 208.59h7.2l-3.6 6.4zM422.12 189.42h7.2l-3.6 6.4zM421.95 195.18h7.2l-3.6 6.4zM422.22 208.51h7.2l-3.6 6.4zM421.91 194.59h7.2l-3.6 6.4zM421.95 209.15h7.2l-3.6 6.4zM421.91 186.02h7.2l-3.6 6.4zM421.86 194.58h7.2l-3.6 6.4zM422.36 206.88h7.2l-3.6 6.4zM422.26 209.74h7.2l-3.6 6.4zM422.38 192.98h7.2l-3.6 6.4z" fill="#9400d3"/>
<path d="M427.95 218.45l2.9 4.6h-5.8zM428.5 217.47l2.9 4.6h-5.8zM428.52 212.59l2.9 4.6h-5.8z" fill="none" stroke="#e7298a" stroke-width="1.2"/>
<path d="M424.57 194.96h7.2l-3.6 6.4zM424.45 186.08h7.2l-3.6 6.4zM424.52 195.49h7.2l-3.6 6.4zM424.92 189.34h7.2l-3.6 6.4zM424.93 191.6h7.2l-3.6 6.4zM424.56 208.18h7.2l-3.6 6.4zM424.84 197.68h7.2l-3.6 6.4zM424.38 198.78h7.2l-3.6 6.4zM424.57 210.83h7.2l-3.6 6.4zM424.47 195.83h7.2l-3.6 6.4zM424.89 186.82h7.2l-3.6 6.4zM424.6 207.92h7.2l-3.6 6.4zM424.81 187.1h7.2l-3.6 6.4zM424.37 187.69h7.2l-3.6 6.4zM424.9 192.94h7.2l-3.6 6.4zM424.8 210.26h7.2l-3.6 6.4zM424.55 193.35h7.2l-3.6 6.4zM424.92 202.66h7.2l-3.6 6.4zM424.51 205.35h7.2l-3.6 6.4zM424.54 193.44h7.2l-3.6 6.4z" fill="#9400d3"/>
<path d="M430.93 218.14l2.9 4.6h-5.8zM430.88 212.33l2.9 4.6h-5.8zM430.98 213.71l2.9 4.6h-5.8z" fill="none" stroke="#e7298a" stroke-width="1.2"/>
<path d="M427.02 198.06h7.2l-3.6 6.4zM427.45 210.74h7.2l-3.6 6.4zM427.11 192.13h7.2l-3.6 6.4zM427.14 198.55h7.2l-3.6 6.4zM427.44 190.32h7.2l-3.6 6.4zM427.36 205.04h7.2l-3.6 6.4zM427.37 205.94h7.2l-3.6 6.4zM427.24 194.16h7.2l-3.6 6.4zM427.07 195.06h7.2l-3.6 6.4zM427.35 187.57h7.2l-3.6 6.4zM427 205.42h7.2l-3.6 6.4zM427.03 187.19h7.2l-3.6 6.4zM426.9 200.11h7.2l-3.6 6.4zM427.08 211.44h7.2l-3.6 6.4zM427.41 211.64h7.2l-3.6 6.4zM427.04 187.71h7.2l-3.6 6.4zM426.94 198.68h7.2l-3.6 6.4zM427.31 197.32h7.2l-3.6 6.4zM427.02 196.52h7.2l-3.6 6.4zM427.25 203.33h7.2l-3.6 6.4z" fill="#9400d3"/>
<path d="M433.14 211.35l2.9 4.6h-5.8zM433.09 210.03l2.9 4.6h-5.8zM433.16 213.2l2.9 4.6h-5.8z" fill="none" stroke="#e7298a" stroke-width="1.2"/>
<path d="M429.75 192.84h7.2l-3.6 6.4zM429.85 188.36h7.2l-3.6 6.4zM429.56 189.55h7.2l-3.6 6.4zM429.5 206.01h7.2l-3.6 6.4zM429.76 191.64h7.2l-3.6 6.4zM429.65 208.81h7.2l-3.6 6.4zM429.71 189.19h7.2l-3.6 6.4zM429.9 200.06h7.2l-3.6 6.4zM430 185.86h7.2l-3.6 6.4zM429.69 204.34h7.2l-3.6 6.4zM429.91 206.79h7.2l-3.6 6.4zM429.43 190.79h7.2l-3.6 6.4zM429.48 188.11h7.2l-3.6 6.4zM429.99 198.26h7.2l-3.6 6.4zM429.97 192.82h7.2l-3.6 6.4zM429.93 194.8h7.2l-3.6 6.4zM429.57 203.27h7.2l-3.6 6.4zM429.98 185.95h7.2l-3.6 6.4zM429.77 199.2h7.2l-3.6 6.4z" fill="#9400d3"/>
<path d="M435.59 213.71l2.9 4.6h-5.8zM435.76 212.77l2.9 4.6h-5.8zM435.63 211l2.9 4.6h-5.8z" fill="none" stroke="#e7298a" stroke-width="1.2"/>
<path d="M432.33 185.04h7.2l-3.6 6.4zM431.95 188.81h7.2l-3.6 6.4zM432.35 184.48h7.2l-3.6 6.4zM432.13 185.04h7.2l-3.6 6.4zM432.42 195.55h7.2l-3.6 6.4zM431.98 181.92h7.2l-3.6 6.4zM432.18 195.61h7.2l-3.6 6.4zM432.32 181.61h7.2l-3.6 6.4zM432.04 200.04h7.2l-3.6 6.4zM432.19 187.47h7.2l-3.6 6.4zM432.12 207.91h7.2l-3.6 6.4zM432.13 196.11h7.2l-3.6 6.4zM432.15 191.54h7.2l-3.6 6.4zM432.46 209.23h7.2l-3.6 6.4zM432.16 184.85h7.2l-3.6 6.4zM432.38 185.04h7.2l-3.6 6.4zM431.94 206.34h7.2l-3.6 6.4zM432.19 203.86h7.2l-3.6 6.4zM432.18 205.76h7.2l-3.6 6.4zM432.22 183.79h7.2l-3.6 6.4zM431.95 195.66h7.2l-3.6 6.4zM432.32 206.58h7.2l-3.6 6.4z" fill="#9400d3"/>
<path d="M438.34 213.25l2.9 4.6h-5.8zM438.08 214.7l2.9 4.6h-5.8zM438.36 211.63l2.9 4.6h-5.8z" fill="none" stroke="#e7298a" stroke-width="1.2"/>
<path d="M434.78 207.96h7.2l-3.6 6.4zM434.54 194.03h7.2l-3.6 6.4zM434.95 209.29h7.2l-3.6 6.4zM434.59 182.38h7.2l-3.6 6.4zM435.04 209.56h7.2l-3.6 6.4zM434.76 180.04h7.2l-3.6 6.4zM435.03 190.75h7.2l-3.6 6.4zM435.01 198.19h7.2l-3.6 6.4zM434.96 183.46h7.2l-3.6 6.4zM434.94 185.44h7.2l-3.6 6.4zM434.71 205.43h7.2l-3.6 6.4zM434.97 184.18h7.2l-3.6 6.4zM434.6 191.13h7.2l-3.6 6.4zM434.78 190.61h7.2l-3.6 6.4zM434.54 186.24h7.2l-3.6 6.4zM434.9 207.06h7.2l-3.6 6.4zM434.49 196.33h7.2l-3.6 6.4zM434.92 179.55h7.2l-3.6 6.4zM434.97 182.1h7.2l-3.6 6.4zM434.83 195.94h7.2l-3.6 6.4zM434.85 188.13h7.2l-3.6 6.4zM434.72 196.98h7.2l-3.6 6.4zM434.73 199.42h7.2l-3.6 6.4z" fill="#9400d3"/>
<path d="M440.62 212.01l2.9 4.6h-5.8zM440.7 218.04l2.9 4.6h-5.8zM441.01 217.71l2.9 4.6h-5.8z" fill="none" stroke="#e7298a" stroke-width="1.2"/>
<path d="M437.46 203.82h7.2l-3.6 6.4zM437.27 183.83h7.2l-3.6 6.4zM437.28 181.42h7.2l-3.6 6.4zM437.08 192.19h7.2l-3.6 6.4zM437.06 192.57h7.2l-3.6 6.4zM437.31 179.21h7.2l-3.6 6.4zM437.38 180.59h7.2l-3.6 6.4zM437.44 203.75h7.2l-3.6 6.4zM437.31 179.66h7.2l-3.6 6.4zM437.3 190.43h7.2l-3.6 6.4zM437.57 182.38h7.2l-3.6 6.4zM437.51 211.02h7.2l-3.6 6.4zM437.44 204.99h7.2l-3.6 6.4zM437.12 210.54h7.2l-3.6 6.4zM437.3 209.71h7.2l-3.6 6.4zM437.55 183.35h7.2l-3.6 6.4zM437.47 208.84h7.2l-3.6 6.4zM437.04 189.53h7.2l-3.6 6.4zM437.45 183.14h7.2l-3.6 6.4zM437.54 187.01h7.2l-3.6 6.4zM437.49 182.63h7.2l-3.6 6.4zM437.3 208.48h7.2l-3.6 6.4zM437.12 186.6h7.2l-3.6 6.4zM437.3 188.48h7.2l-3.6 6.4z" fill="#9400d3"/>
<path d="M443.5 214.77l2.9 4.6h-5.8zM443.21 218.46l2.9 4.6h-5.8zM443.28 212.17l2.9 4.6h-5.8z" fill="none" stroke="#e7298a" stroke-width="1.2"/>
<path d="M439.63 204.23h7.2l-3.6 6.4zM439.6 195.55h7.2l-3.6 6.4zM439.91 189.71h7.2l-3.6 6.4zM440.05 196.38h7.2l-3.6 6.4zM439.88 207.56h7.2l-3.6 6.4zM439.59 211.33h7.2l-3.6 6.4zM439.91 190.89h7.2l-3.6 6.4zM440.01 186.47h7.2l-3.6 6.4zM440.12 197.14h7.2l-3.6 6.4zM439.75 203.54h7.2l-3.6 6.4zM439.8 183.46h7.2l-3.6 6.4zM439.98 179.08h7.2l-3.6 6.4zM440.02 186.09h7.2l-3.6 6.4zM439.91 211.03h7.2l-3.6 6.4zM439.88 200.09h7.2l-3.6 6.4zM439.72 177.49h7.2l-3.6 6.4zM439.55 182.53h7.2l-3.6 6.4zM439.9 192.19h7.2l-3.6 6.4zM439.84 208.01h7.2l-3.6 6.4zM439.61 185.19h7.2l-3.6 6.4zM439.92 178.19h7.2l-3.6 6.4zM439.53 189.55h7.2l-3.6 6.4zM439.59 189.62h7.2l-3.6 6.4zM439.66 197.35h7.2l-3.6 6.4zM439.88 184.4h7.2l-3.6 6.4z" fill="#9400d3"/>
<path d="M446.08 218.16l2.9 4.6h-5.8zM446.09 213.52l2.9 4.6h-5.8zM445.99 214.88l2.9 4.6h-5.8z" fill="none" stroke="#e7298a" stroke-width="1.2"/>
<path d="M442.12 199.34h7.2l-3.6 6.4zM442.58 204.37h7.2l-3.6 6.4zM442.3 186.25h7.2l-3.6 6.4zM442.07 199.57h7.2l-3.6 6.4zM442.4 189.26h7.2l-3.6 6.4zM442.45 192.53h7.2l-3.6 6.4zM442.62 202.67h7.2l-3.6 6.4zM442.21 208.62h7.2l-3.6 6.4zM442.09 195.6h7.2l-3.6 6.4zM442.3 185.32h7.2l-3.6 6.4zM442.1 204.26h7.2l-3.6 6.4zM442.07 196.28h7.2l-3.6 6.4zM442.62 181.98h7.2l-3.6 6.4zM442.18 198.28h7.2l-3.6 6.4zM442.36 199.45h7.2l-3.6 6.4zM442.55 183.12h7.2l-3.6 6.4zM442.25 187.51h7.2l-3.6 6.4zM442.09 208.12h7.2l-3.6 6.4zM442.53 202.04h7.2l-3.6 6.4zM442.06 206.55h7.2l-3.6 6.4zM442.51 193.28h7.2l-3.6 6.4zM442.51 192.84h7.2l-3.6 6.4zM442.2 180.69h7.2l-3.6 6.4zM442.2 178.36h7.2l-3.6 6.4zM442.26 203.23h7.2l-3.6 6.4z" fill="#9400d3"/>
<path d="M448.74 222.46l2.9 4.6h-5.8zM448.25 216.56l2.9 4.6h-5.8zM448.26 215.19l2.9 4.6h-5.8z" fill="none" stroke="#e7298a" stroke-width="1.2"/>
<path d="M445.06 197.15h7.2l-3.6 6.4zM444.75 201.72h7.2l-3.6 6.4zM445.17 185.36h7.2l-3.6 6.4zM445.12 177.59h7.2l-3.6 6.4zM444.75 186.09h7.2l-3.6 6.4zM445.04 213.38h7.2l-3.6 6.4zM445.04 189.59h7.2l-3.6 6.4zM445.12 189.65h7.2l-3.6 6.4zM444.73 211.95h7.2l-3.6 6.4zM444.97 203.68h7.2l-3.6 6.4zM444.99 214.7h7.2l-3.6 6.4zM444.87 209.34h7.2l-3.6 6.4zM445.01 210.02h7.2l-3.6 6.4zM444.85 204.91h7.2l-3.6 6.4zM444.93 188.85h7.2l-3.6 6.4zM444.72 200.98h7.2l-3.6 6.4zM444.64 212.07h7.2l-3.6 6.4zM444.68 178.04h7.2l-3.6 6.4zM444.65 212.77h7.2l-3.6 6.4zM444.8 182.46h7.2l-3.6 6.4zM444.61 178.6h7.2l-3.6 6.4zM445.01 201.41h7.2l-3.6 6.4zM445.01 205.37h7.2l-3.6 6.4zM444.63 199.74h7.2l-3.6 6.4zM444.81 208.48h7.2l-3.6 6.4zM445.08 211.32h7.2l-3.6 6.4zM444.63 210.42h7.2l-3.6 6.4z" fill="#9400d3"/>
<path d="M451.14 215.35l2.9 4.6h-5.8zM450.79 216.45l2.9 4.6h-5.8zM450.77 217.66l2.9 4.6h-5.8z" fill="none" stroke="#e7298a" stroke-width="1.2"/>
<path d="M447.63 205.48h7.2l-3.6 6.4zM447.5 205.93h7.2l-3.6 6.4zM447.5 187.41h7.2l-3.6 6.4zM447.18 180.88h7.2l-3.6 6.4zM447.57 184.57h7.2l-3.6 6.4zM447.31 192.11h7.2l-3.6 6.4zM447.13 186.35h7.2l-3.6 6.4zM447.29 202.17h7.2l-3.6 6.4zM447.34 188.56h7.2l-3.6 6.4zM447.7 194.86h7.2l-3.6 6.4zM447.63 198.81h7.2l-3.6 6.4zM447.14 191.74h7.2l-3.6 6.4zM447.38 204.14h7.2l-3.6 6.4zM447.33 201.79h7.2l-3.6 6.4zM447.44 184.97h7.2l-3.6 6.4zM447.64 180.64h7.2l-3.6 6.4zM447.61 183.38h7.2l-3.6 6.4zM447.12 184.47h7.2l-3.6 6.4zM447.58 211.2h7.2l-3.6 6.4zM447.12 194.42h7.2l-3.6 6.4zM447.41 204.96h7.2l-3.6 6.4zM447.23 194.55h7.2l-3.6 6.4zM447.33 206.17h7.2l-3.6 6.4zM447.28 210.03h7.2l-3.6 6.4zM447.29 184.91h7.2l-3.6 6.4z" fill="#9400d3"/>
<path d="M453.45 210.4l2.9 4.6h-5.8zM453.84 214.71l2.9 4.6h-5.8zM453.31 216.58l2.9 4.6h-5.8z" fill="none" stroke="#e7298a" stroke-width="1.2"/>
<path d="M450.07 202.89h7.2l-3.6 6.4zM450.03 189.53h7.2l-3.6 6.4zM449.89 190.74h7.2l-3.6 6.4zM450.18 181.19h7.2l-3.6 6.4zM450.18 179.3h7.2l-3.6 6.4zM449.77 186.67h7.2l-3.6 6.4zM450.19 194.04h7.2l-3.6 6.4zM449.88 205.89h7.2l-3.6 6.4zM449.79 192.79h7.2l-3.6 6.4zM449.97 201.88h7.2l-3.6 6.4zM450.1 198.53h7.2l-3.6 6.4zM449.86 188.63h7.2l-3.6 6.4zM449.74 204.62h7.2l-3.6 6.4zM450.05 201.49h7.2l-3.6 6.4zM449.75 192.1h7.2l-3.6 6.4zM450.11 196.45h7.2l-3.6 6.4zM449.73 192.82h7.2l-3.6 6.4zM450.18 185.88h7.2l-3.6 6.4zM449.76 187.85h7.2l-3.6 6.4zM450.07 204.64h7.2l-3.6 6.4zM449.74 183.35h7.2l-3.6 6.4zM449.8 188.63h7.2l-3.6 6.4zM449.96 183.5h7.2l-3.6 6.4z" fill="#9400d3"/>
<path d="M456.03 211.68l2.9 4.6h-5.8zM456.15 211.31l2.9 4.6h-5.8zM456.19 215.48l2.9 4.6h-5.8z" fill="none" stroke="#e7298a" stroke-width="1.2"/>
<path d="M452.24 190.61h7.2l-3.6 6.4zM452.77 202.63h7.2l-3.6 6.4zM452.62 192.09h7.2l-3.6 6.4zM452.3 198.04h7.2l-3.6 6.4zM452.24 185.4h7.2l-3.6 6.4zM452.41 180.35h7.2l-3.6 6.4zM452.42 202.52h7.2l-3.6 6.4zM452.6 194.01h7.2l-3.6 6.4zM452.56 192.92h7.2l-3.6 6.4zM452.27 197.04h7.2l-3.6 6.4zM452.42 201.05h7.2l-3.6 6.4zM452.72 191.95h7.2l-3.6 6.4zM452.52 201.29h7.2l-3.6 6.4zM452.43 186.05h7.2l-3.6 6.4zM452.61 205.13h7.2l-3.6 6.4zM452.64 199.86h7.2l-3.6 6.4zM452.69 199.26h7.2l-3.6 6.4zM452.56 192.65h7.2l-3.6 6.4zM452.37 197.76h7.2l-3.6 6.4zM452.24 191.65h7.2l-3.6 6.4zM452.65 200.24h7.2l-3.6 6.4zM452.56 186.68h7.2l-3.6 6.4z" fill="#9400d3"/>
<path d="M458.87 211.01l2.9 4.6h-5.8zM458.44 213.2l2.9 4.6h-5.8zM458.55 208.49l2.9 4.6h-5.8z" fill="none" stroke="#e7298a" stroke-width="1.2"/>
<path d="M454.82 197.93h7.2l-3.6 6.4zM455.18 190.65h7.2l-3.6 6.4zM455 206.69h7.2l-3.6 6.4zM454.73 194.88h7.2l-3.6 6.4zM454.81 201.41h7.2l-3.6 6.4zM455.27 194.22h7.2l-3.6 6.4zM454.77 195.74h7.2l-3.6 6.4zM455.03 199.65h7.2l-3.6 6.4zM455.02 197.51h7.2l-3.6 6.4zM455.21 194.29h7.2l-3.6 6.4zM454.96 205.96h7.2l-3.6 6.4zM454.84 198.74h7.2l-3.6 6.4zM454.95 200.89h7.2l-3.6 6.4zM454.78 206.96h7.2l-3.6 6.4zM454.92 181.55h7.2l-3.6 6.4zM454.87 190.95h7.2l-3.6 6.4zM454.72 191.46h7.2l-3.6 6.4zM454.96 199.13h7.2l-3.6 6.4zM454.92 187.26h7.2l-3.6 6.4zM454.84 200.31h7.2l-3.6 6.4z" fill="#9400d3"/>
<path d="M461.38 211.67l2.9 4.6h-5.8zM460.92 212.05l2.9 4.6h-5.8zM461.22 205.52l2.9 4.6h-5.8z" fill="none" stroke="#e7298a" stroke-width="1.2"/>
<path d="M457.32 200.23h7.2l-3.6 6.4zM457.73 196.56h7.2l-3.6 6.4zM457.52 194.7h7.2l-3.6 6.4zM457.38 205.07h7.2l-3.6 6.4zM457.45 196.68h7.2l-3.6 6.4zM457.73 201.26h7.2l-3.6 6.4zM457.52 187.79h7.2l-3.6 6.4zM457.57 183.42h7.2l-3.6 6.4zM457.74 189.35h7.2l-3.6 6.4zM457.75 187.09h7.2l-3.6 6.4zM457.47 186.73h7.2l-3.6 6.4zM457.5 184.99h7.2l-3.6 6.4zM457.24 198.82h7.2l-3.6 6.4zM457.41 186.51h7.2l-3.6 6.4zM457.42 192.57h7.2l-3.6 6.4zM457.5 196.64h7.2l-3.6 6.4zM457.64 189.54h7.2l-3.6 6.4zM457.8 202.24h7.2l-3.6 6.4zM457.27 201.56h7.2l-3.6 6.4z" fill="#9400d3"/>
<path d="M463.37 212.13l2.9 4.6h-5.8zM463.65 209.9l2.9 4.6h-5.8zM463.77 212.12l2.9 4.6h-5.8z" fill="none" stroke="#e7298a" stroke-width="1.2"/>
<path d="M459.78 204.78h7.2l-3.6 6.4zM460.16 186.96h7.2l-3.6 6.4zM459.83 184.24h7.2l-3.6 6.4zM459.91 200.32h7.2l-3.6 6.4zM459.98 184.49h7.2l-3.6 6.4zM460.31 200.71h7.2l-3.6 6.4zM459.87 203.24h7.2l-3.6 6.4zM460.14 200.45h7.2l-3.6 6.4zM460.17 203.31h7.2l-3.6 6.4zM460.24 201.91h7.2l-3.6 6.4zM459.89 198.2h7.2l-3.6 6.4zM460.09 199.45h7.2l-3.6 6.4zM460.03 203.02h7.2l-3.6 6.4zM460.1 187.33h7.2l-3.6 6.4zM459.91 184.15h7.2l-3.6 6.4zM460.07 182.1h7.2l-3.6 6.4zM460.05 184.28h7.2l-3.6 6.4zM460.06 193.26h7.2l-3.6 6.4zM460.09 202.52h7.2l-3.6 6.4z" fill="#9400d3"/>
<path d="M465.15 207.94l2.9 4.6h-5.8zM465.13 210.09l2.9 4.6h-5.8zM465.33 211.67l2.9 4.6h-5.8z" fill="none" stroke="#e7298a" stroke-width="1.2"/>
<path d="M461.57 191.4h7.2l-3.6 6.4zM461.93 182.77h7.2l-3.6 6.4zM461.73 196.86h7.2l-3.6 6.4zM461.37 196.19h7.2l-3.6 6.4zM461.76 204.28h7.2l-3.6 6.4zM461.55 205.54h7.2l-3.6 6.4zM461.66 193.05h7.2l-3.6 6.4zM461.89 181.73h7.2l-3.6 6.4zM461.78 196.59h7.2l-3.6 6.4zM461.55 202.52h7.2l-3.6 6.4zM461.57 192.8h7.2l-3.6 6.4zM461.67 200.24h7.2l-3.6 6.4zM461.48 191.81h7.2l-3.6 6.4zM461.6 194.79h7.2l-3.6 6.4zM461.85 188.23h7.2l-3.6 6.4zM461.85 191.02h7.2l-3.6 6.4zM461.65 187.7h7.2l-3.6 6.4zM461.65 205.37h7.2l-3.6 6.4zM461.74 200.77h7.2l-3.6 6.4z" fill="#9400d3"/>
<path d="M467.39 208.35l2.9 4.6h-5.8zM467.59 212.37l2.9 4.6h-5.8zM467.23 209.44l2.9 4.6h-5.8z" fill="none" stroke="#e7298a" stroke-width="1.2"/>
<path d="M463.62 198.77h7.2l-3.6 6.4zM464.13 194.48h7.2l-3.6 6.4zM463.63 188.53h7.2l-3.6 6.4zM463.6 185.86h7.2l-3.6 6.4zM464.15 196.01h7.2l-3.6 6.4zM463.99 200.38h7.2l-3.6 6.4zM464.15 196.08h7.2l-3.6 6.4zM463.97 196.45h7.2l-3.6 6.4zM464.02 195.71h7.2l-3.6 6.4zM464.01 186.4h7.2l-3.6 6.4zM464 192.35h7.2l-3.6 6.4zM464.06 183.71h7.2l-3.6 6.4zM463.71 182.15h7.2l-3.6 6.4zM464.06 203.42h7.2l-3.6 6.4zM463.99 190.2h7.2l-3.6 6.4zM464.09 200.32h7.2l-3.6 6.4zM463.94 187.51h7.2l-3.6 6.4zM463.78 191.48h7.2l-3.6 6.4z" fill="#9400d3"/>
<path d="M470.08 209.74l2.9 4.6h-5.8zM469.98 211.53l2.9 4.6h-5.8zM469.85 211.78l2.9 4.6h-5.8z" fill="none" stroke="#e7298a" stroke-width="1.2"/>
<path d="M466.12 184.4h7.2l-3.6 6.4zM466.59 194.9h7.2l-3.6 6.4zM466.65 191.94h7.2l-3.6 6.4zM466.11 190.57h7.2l-3.6 6.4zM466.46 203.23h7.2l-3.6 6.4zM466.69 192.6h7.2l-3.6 6.4zM466.35 184.01h7.2l-3.6 6.4zM466.49 186.55h7.2l-3.6 6.4zM466.19 182.02h7.2l-3.6 6.4zM466.1 197.39h7.2l-3.6 6.4zM466.17 203.89h7.2l-3.6 6.4zM466.15 201.67h7.2l-3.6 6.4zM466.18 182.08h7.2l-3.6 6.4zM466.53 187.24h7.2l-3.6 6.4zM466.54 185.98h7.2l-3.6 6.4zM466.13 199.47h7.2l-3.6 6.4zM466.53 201.34h7.2l-3.6 6.4zM466.54 183.61h7.2l-3.6 6.4z" fill="#9400d3"/>
<path d="M472.54 209.55l2.9 4.6h-5.8zM472.31 205.37l2.9 4.6h-5.8zM472.21 210l2.9 4.6h-5.8z" fill="none" stroke="#e7298a" stroke-width="1.2"/>
<path d="M468.78 182.37h7.2l-3.6 6.4zM468.36 196.03h7.2l-3.6 6.4zM468.84 183.83h7.2l-3.6 6.4zM468.54 197.72h7.2l-3.6 6.4zM468.45 200.53h7.2l-3.6 6.4zM468.64 183.4h7.2l-3.6 6.4zM468.57 194.41h7.2l-3.6 6.4zM468.61 196.59h7.2l-3.6 6.4zM468.44 199.17h7.2l-3.6 6.4zM468.57 195.91h7.2l-3.6 6.4zM468.73 191.06h7.2l-3.6 6.4zM468.58 198.93h7.2l-3.6 6.4zM468.92 198.9h7.2l-3.6 6.4zM468.69 188.37h7.2l-3.6 6.4zM468.39 202.94h7.2l-3.6 6.4zM468.77 199.81h7.2l-3.6 6.4zM468.55 195.07h7.2l-3.6 6.4z" fill="#9400d3"/>
<path d="M474.57 205.4l2.9 4.6h-5.8zM475.01 201.27l2.9 4.6h-5.8zM474.81 204.82l2.9 4.6h-5.8z" fill="none" stroke="#e7298a" stroke-width="1.2"/>
<path d="M471.08 194.88h7.2l-3.6 6.4zM471.21 198.31h7.2l-3.6 6.4zM471.33 188.35h7.2l-3.6 6.4zM470.85 188.02h7.2l-3.6 6.4zM471.1 193.28h7.2l-3.6 6.4zM471.34 198.17h7.2l-3.6 6.4zM470.88 197.29h7.2l-3.6 6.4zM471.34 197.84h7.2l-3.6 6.4zM471.19 188.2h7.2l-3.6 6.4zM471.36 196.86h7.2l-3.6 6.4zM471.26 198.6h7.2l-3.6 6.4zM471.06 185.13h7.2l-3.6 6.4zM471.18 196.71h7.2l-3.6 6.4z" fill="#9400d3"/>
<path d="M477.55 202.39l2.9 4.6h-5.8zM477.01 204.46l2.9 4.6h-5.8zM477.42 200.65l2.9 4.6h-5.8z" fill="none" stroke="#e7298a" stroke-width="1.2"/>
<path d="M473.63 188.1h7.2l-3.6 6.4zM473.5 196.27h7.2l-3.6 6.4zM473.82 191.9h7.2l-3.6 6.4zM473.4 197.1h7.2l-3.6 6.4zM473.81 188.49h7.2l-3.6 6.4zM473.7 198.45h7.2l-3.6 6.4zM473.88 192.83h7.2l-3.6 6.4zM473.64 193.84h7.2l-3.6 6.4zM473.46 187.88h7.2l-3.6 6.4zM473.46 195.52h7.2l-3.6 6.4zM473.57 193.47h7.2l-3.6 6.4zM473.59 192.76h7.2l-3.6 6.4zM473.44 185.67h7.2l-3.6 6.4z" fill="#9400d3"/>
<path d="M480 199.91l2.9 4.6h-5.8zM479.81 202.58l2.9 4.6h-5.8zM479.52 207.07l2.9 4.6h-5.8z" fill="none" stroke="#e7298a" stroke-width="1.2"/>
<path d="M476.21 190.17h7.2l-3.6 6.4zM476.16 185.31h7.2l-3.6 6.4zM475.87 199.86h7.2l-3.6 6.4zM476.37 192.29h7.2l-3.6 6.4zM476.19 188.92h7.2l-3.6 6.4zM476.32 191.39h7.2l-3.6 6.4zM476.42 196.51h7.2l-3.6 6.4zM476.34 199.45h7.2l-3.6 6.4zM476 185.57h7.2l-3.6 6.4zM475.97 187.71h7.2l-3.6 6.4zM475.9 185.76h7.2l-3.6 6.4zM476.18 198.06h7.2l-3.6 6.4zM476.12 199.21h7.2l-3.6 6.4z" fill="#9400d3"/>
<path d="M482.61 201.79l2.9 4.6h-5.8zM482.55 205.46l2.9 4.6h-5.8zM482.26 201.99l2.9 4.6h-5.8z" fill="none" stroke="#e7298a" stroke-width="1.2"/>
<path d="M478.75 193.47h7.2l-3.6 6.4zM478.98 199.35h7.2l-3.6 6.4zM479 190.9h7.2l-3.6 6.4zM478.87 187.4h7.2l-3.6 6.4zM479.18 199.88h7.2l-3.6 6.4zM478.73 185.58h7.2l-3.6 6.4zM478.75 190.28h7.2l-3.6 6.4zM479.14 198.57h7.2l-3.6 6.4zM479.1 185.71h7.2l-3.6 6.4zM479.07 195.64h7.2l-3.6 6.4zM478.99 199.78h7.2l-3.6 6.4zM478.63 187.17h7.2l-3.6 6.4zM479.05 199.09h7.2l-3.6 6.4z" fill="#9400d3"/>
<path d="M483.58 200.54l2.9 4.6h-5.8zM483.33 199.85l2.9 4.6h-5.8zM483.63 203.83l2.9 4.6h-5.8z" fill="none" stroke="#e7298a" stroke-width="1.2"/>
<path d="M479.75 186.86h7.2l-3.6 6.4zM479.89 187.53h7.2l-3.6 6.4zM479.74 187.15h7.2l-3.6 6.4zM480.01 185.19h7.2l-3.6 6.4zM480.03 187.93h7.2l-3.6 6.4zM479.62 198.92h7.2l-3.6 6.4zM479.73 199.01h7.2l-3.6 6.4zM480.12 198.33h7.2l-3.6 6.4zM479.68 191.71h7.2l-3.6 6.4zM479.66 198.93h7.2l-3.6 6.4zM480.11 194.43h7.2l-3.6 6.4zM479.87 190.1h7.2l-3.6 6.4zM480.09 192.16h7.2l-3.6 6.4z" fill="#9400d3"/>
<path d="M489.21 209.1l2.9 4.6h-5.8zM489.53 203.37l2.9 4.6h-5.8zM489.15 202.27l2.9 4.6h-5.8z" fill="none" stroke="#e7298a" stroke-width="1.2"/>
<path d="M485.59 202.99h7.2l-3.6 6.4zM485.66 188.77h7.2l-3.6 6.4zM485.59 184.4h7.2l-3.6 6.4zM486 186.37h7.2l-3.6 6.4zM485.6 191.22h7.2l-3.6 6.4zM485.69 204h7.2l-3.6 6.4zM485.57 206.34h7.2l-3.6 6.4zM485.53 203.75h7.2l-3.6 6.4zM485.9 182.55h7.2l-3.6 6.4zM485.79 184.87h7.2l-3.6 6.4zM485.65 182.25h7.2l-3.6 6.4zM485.72 206.72h7.2l-3.6 6.4zM486.1 204.68h7.2l-3.6 6.4zM485.56 184.97h7.2l-3.6 6.4zM486.04 177.78h7.2l-3.6 6.4zM485.94 185.1h7.2l-3.6 6.4zM486.09 176.5h7.2l-3.6 6.4zM485.98 186.57h7.2l-3.6 6.4zM485.58 176.06h7.2l-3.6 6.4zM486 192.32h7.2l-3.6 6.4zM485.61 189.49h7.2l-3.6 6.4zM486.05 182.77h7.2l-3.6 6.4zM485.84 180.28h7.2l-3.6 6.4z" fill="#9400d3"/>
<path d="M492.26 206.71l2.9 4.6h-5.8zM492.27 201.61l2.9 4.6h-5.8zM492.53 203.64l2.9 4.6h-5.8z" fill="none" stroke="#e7298a" stroke-width="1.2"/>
<path d="M488.72 191.36h7.2l-3.6 6.4zM488.51 182.39h7.2l-3.6 6.4zM488.72 197.94h7.2l-3.6 6.4zM488.84 194.07h7.2l-3.6 6.4zM488.47 178.04h7.2l-3.6 6.4zM488.79 188.65h7.2l-3.6 6.4zM488.78 177.72h7.2l-3.6 6.4zM488.84 186.39h7.2l-3.6 6.4zM488.86 202.8h7.2l-3.6 6.4zM488.65 176.48h7.2l-3.6 6.4zM488.9 190.78h7.2l-3.6 6.4zM488.87 184.25h7.2l-3.6 6.4zM488.46 201.78h7.2l-3.6 6.4zM488.57 181.07h7.2l-3.6 6.4zM488.57 194.44h7.2l-3.6 6.4zM488.35 192.11h7.2l-3.6 6.4zM488.62 191.98h7.2l-3.6 6.4zM488.42 198.15h7.2l-3.6 6.4zM488.84 202.83h7.2l-3.6 6.4zM488.54 198.05h7.2l-3.6 6.4zM488.58 199.29h7.2l-3.6 6.4zM488.39 203.06h7.2l-3.6 6.4zM488.92 191.34h7.2l-3.6 6.4z" fill="#9400d3"/>
<path d="M494.59 209.88l2.9 4.6h-5.8zM494.13 206.57l2.9 4.6h-5.8zM494.67 210.74l2.9 4.6h-5.8z" fill="none" stroke="#e7298a" stroke-width="1.2"/>
<path d="M490.61 179.18h7.2l-3.6 6.4zM490.65 201.33h7.2l-3.6 6.4zM490.52 178.99h7.2l-3.6 6.4zM490.92 182.05h7.2l-3.6 6.4zM490.51 194.58h7.2l-3.6 6.4zM490.85 192.21h7.2l-3.6 6.4zM490.92 179.19h7.2l-3.6 6.4zM491.02 198.23h7.2l-3.6 6.4zM490.53 179.81h7.2l-3.6 6.4zM490.8 191.52h7.2l-3.6 6.4zM490.67 179.78h7.2l-3.6 6.4zM490.74 180.25h7.2l-3.6 6.4zM490.86 202.69h7.2l-3.6 6.4zM490.59 193.76h7.2l-3.6 6.4zM490.95 181.09h7.2l-3.6 6.4zM491 205.07h7.2l-3.6 6.4zM490.73 189.04h7.2l-3.6 6.4zM491 192.29h7.2l-3.6 6.4zM490.74 205.18h7.2l-3.6 6.4zM490.97 186.5h7.2l-3.6 6.4zM490.64 186.39h7.2l-3.6 6.4zM490.76 206.42h7.2l-3.6 6.4zM490.98 204.3h7.2l-3.6 6.4z" fill="#9400d3"/>
<path d="M496 195.14h7.2l-3.6 6.4zM496.23 194.59h7.2l-3.6 6.4zM496.17 191.78h7.2l-3.6 6.4zM496.11 195.92h7.2l-3.6 6.4zM495.86 192.45h7.2l-3.6 6.4zM496.43 198.5h7.2l-3.6 6.4zM496.41 197.14h7.2l-3.6 6.4zM496.34 199.53h7.2l-3.6 6.4zM496.38 191.45h7.2l-3.6 6.4z" fill="#9400d3"/>
<path d="M496.73 194.13h7.2l-3.6 6.4zM496.76 194.2h7.2l-3.6 6.4zM496.68 199.73h7.2l-3.6 6.4zM496.72 194h7.2l-3.6 6.4zM496.66 195.56h7.2l-3.6 6.4zM496.92 194.32h7.2l-3.6 6.4zM496.53 197.38h7.2l-3.6 6.4zM496.42 196.93h7.2l-3.6 6.4zM496.92 196.24h7.2l-3.6 6.4z" fill="#9400d3"/>
<path d="M500.66 196.26h7.2l-3.6 6.4zM500.82 194.04h7.2l-3.6 6.4zM500.57 193.92h7.2l-3.6 6.4zM500.68 195.85h7.2l-3.6 6.4zM500.67 194.7h7.2l-3.6 6.4zM500.55 196.82h7.2l-3.6 6.4zM501 197.27h7.2l-3.6 6.4zM500.84 197.55h7.2l-3.6 6.4z" fill="#9400d3"/>
<path d="M502.47 197.97h7.2l-3.6 6.4zM502.63 196.84h7.2l-3.6 6.4zM502.72 196.28h7.2l-3.6 6.4zM502.54 194.7h7.2l-3.6 6.4zM502.48 196.59h7.2l-3.6 6.4zM502.58 197.1h7.2l-3.6 6.4zM502.36 195.47h7.2l-3.6 6.4zM502.87 194.67h7.2l-3.6 6.4z" fill="#9400d3"/>
<path d="M503.68 196.44h7.2l-3.6 6.4zM503.52 199.91h7.2l-3.6 6.4zM503.53 198.4h7.2l-3.6 6.4zM503.45 193.47h7.2l-3.6 6.4zM503.87 196.08h7.2l-3.6 6.4zM503.39 195.72h7.2l-3.6 6.4zM503.61 198.15h7.2l-3.6 6.4zM503.42 194.58h7.2l-3.6 6.4z" fill="#9400d3"/>
<path d="M236.9 106h7.2l-3.6 6.4zM323.9 178.8h7.2l-3.6 6.4zM393.3 176.25h7.2l-3.6 6.4zM398.9 176.25h7.2l-3.6 6.4zM389.9 180.75h7.2l-3.6 6.4zM405.7 169.5h7.2l-3.6 6.4zM444.5 170.5h7.2l-3.6 6.4zM452.6 161.3h7.2l-3.6 6.4zM454.8 168.9h7.2l-3.6 6.4zM459.1 173.8h7.2l-3.6 6.4zM466.7 168.4h7.2l-3.6 6.4zM472.1 175.4h7.2l-3.6 6.4zM491.2 176.25h7.2l-3.6 6.4zM501 172.4h7.2l-3.6 6.4zM516 180.3h7.2l-3.6 6.4zM537.9 194.1h7.2l-3.6 6.4zM532 200.3h7.2l-3.6 6.4zM526 201.2h7.2l-3.6 6.4zM523.1 202.4h7.2l-3.6 6.4zM520.15 201.2h7.2l-3.6 6.4zM516 193.25h7.2l-3.6 6.4zM514.7 198.7h7.2l-3.6 6.4zM515.15 200.75h7.2l-3.6 6.4zM508.1 193.25h7.2l-3.6 6.4zM508.9 200.75h7.2l-3.6 6.4zM504.7 201.2h7.2l-3.6 6.4zM500.6 203.7h7.2l-3.6 6.4zM396.4 179h7.2l-3.6 6.4zM387.9 185h7.2l-3.6 6.4zM426.4 178h7.2l-3.6 6.4zM433.4 177h7.2l-3.6 6.4zM462.4 177h7.2l-3.6 6.4zM466.4 178h7.2l-3.6 6.4zM485.4 174h7.2l-3.6 6.4zM493.4 175h7.2l-3.6 6.4zM481.4 183h7.2l-3.6 6.4z" fill="#9400d3"/>
<rect x="81" y="69" width="622" height="12" fill="#fff"/>
<g font-family='"DejaVu Sans","Liberation Sans",sans-serif' font-size="12"><text x="186.2" y="78.8" text-anchor="end">alevin</text><text x="304.2" y="78.8" text-anchor="end">fry</text><text x="422.8" y="78.8" text-anchor="end">parr</text><text x="540.6" y="78.8" text-anchor="end">silvery parr</text><text x="658.2" y="78.8" text-anchor="end">smolt</text></g>
<path d="M204.4 71l3.5 3.5-3.5 3.5-3.5-3.5z" fill="#3cb371"/>
<path d="M319.85 71.85h5.3v5.3h-5.3z" fill="none" stroke="#e6ab02" stroke-width="1.3"/>
<path d="M437.7 74.4a2.7 2.7 0 1 0 5.4 0a2.7 2.7 0 1 0 -5.4 0" fill="none" stroke="#0072b2" stroke-width="1.05"/>
<path d="M558.4 72.2l2.9 4.6h-5.8z" fill="none" stroke="#e7298a" stroke-width="1.2"/>
<path d="M672.8 71.8h7.2l-3.6 6.4z" fill="#9400d3"/></svg>
</body></html>
